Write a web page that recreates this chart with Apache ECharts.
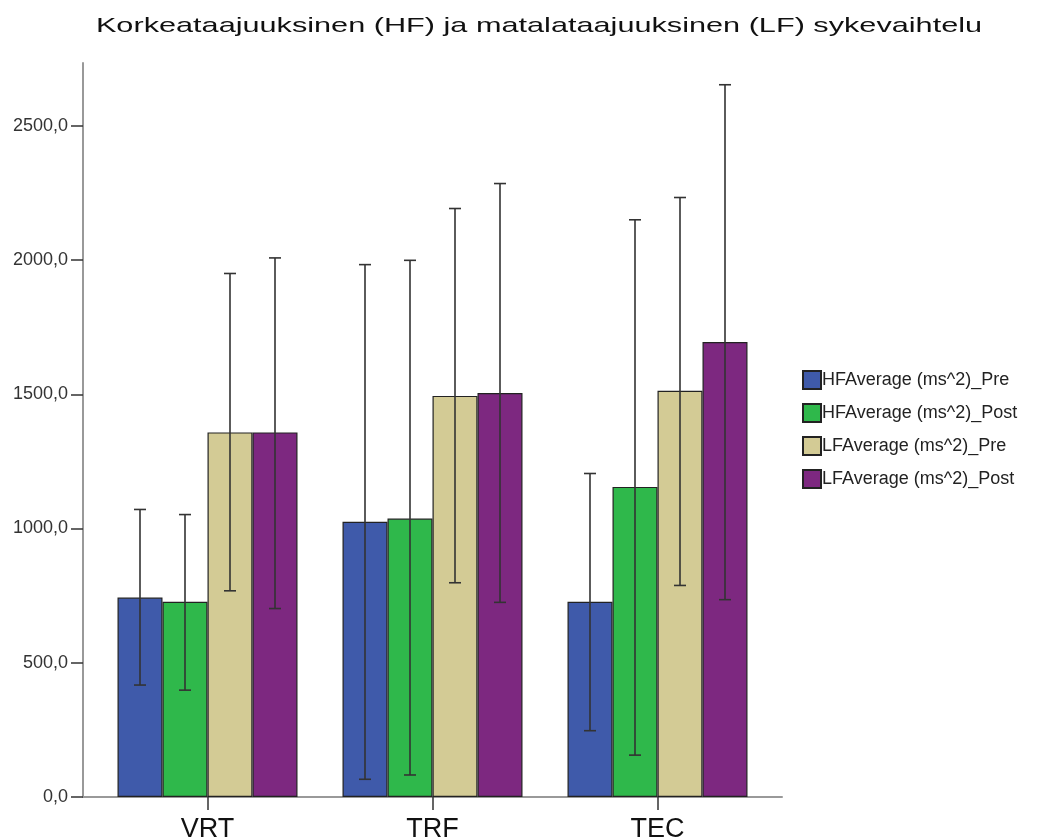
<!DOCTYPE html>
<html>
<head>
<meta charset="utf-8">
<title>Sykevaihtelu</title>
<script src="https://cdn.jsdelivr.net/npm/echarts@6/dist/echarts.min.js"></script>
<style>
  html, body { margin: 0; padding: 0; background: #ffffff; }
  #chart { width: 1037px; height: 840px; }
</style>
</head>
<body>
<div id="chart"></div>
<script>
// Groups and series
const categories = ['VRT', 'TRF', 'TEC'];
const seriesNames = ['HFAverage (ms^2)_Pre', 'HFAverage (ms^2)_Post', 'LFAverage (ms^2)_Pre', 'LFAverage (ms^2)_Post'];
const chartTitle = 'Korkeataajuuksinen (HF) ja matalataajuuksinen (LF) sykevaihtelu';

// Means
const hfPre  = [743, 1025, 727];
const hfPost = [727, 1037, 1155];
const lfPre  = [1358, 1494, 1513];
const lfPost = [1358, 1505, 1695];

// Error bar ends (lower / upper)
const hfPreLow   = [417, 66, 247];
const hfPreHigh  = [1071, 1983, 1205];
const hfPostLow  = [398, 82, 156];
const hfPostHigh = [1052, 1999, 2150];
const lfPreLow   = [768, 798, 788];
const lfPreHigh  = [1950, 2192, 2233];
const lfPostLow  = [702, 725, 735];
const lfPostHigh = [2008, 2285, 2653];

// Y axis ticks
const yTicks = [0, 500, 1000, 1500, 2000, 2500];
const yMax = 2734;

const means = [hfPre, hfPost, lfPre, lfPost];
const lows  = [hfPreLow, hfPostLow, lfPreLow, lfPostLow];
const highs = [hfPreHigh, hfPostHigh, lfPreHigh, lfPostHigh];
const colors = ['#3f5aaa', '#2fb84b', '#d3cb95', '#7d2880'];

const BAR_W = 45;
const CAP_W = 12;
const FONT = '"Liberation Sans", Arial, sans-serif';

const errData = [];
lows.forEach(function (lo, s) {
  lo.forEach(function (v, c) { errData.push([c, v, highs[s][c], s]); });
});

const barSeries = means.map(function (vals, s) {
  return {
    name: seriesNames[s],
    type: 'bar',
    xAxisIndex: 0,
    yAxisIndex: 0,
    barWidth: BAR_W,
    barGap: '0%',
    data: vals,
    itemStyle: { color: colors[s], borderColor: '#222', borderWidth: 1.2 },
    emphasis: { disabled: true }
  };
});

const errStyle = { stroke: '#333', lineWidth: 1.6 };

// Error bars: vertical whisker with caps, centred on each bar of the group
const errorSeries = {
  type: 'custom',
  xAxisIndex: 0,
  yAxisIndex: 0,
  z: 5,
  silent: true,
  encode: { x: 0, y: [1, 2] },
  data: errData,
  renderItem: function (params, api) {
    const c = api.value(0), lo = api.value(1), hi = api.value(2), s = api.value(3);
    const pLo = api.coord([c, lo]);
    const pHi = api.coord([c, hi]);
    const x = pLo[0] + (s - 1.5) * BAR_W;
    const h = CAP_W / 2;
    return {
      type: 'group',
      children: [
        { type: 'line', shape: { x1: x, y1: pLo[1], x2: x, y2: pHi[1] }, style: errStyle },
        { type: 'line', shape: { x1: x - h, y1: pHi[1], x2: x + h, y2: pHi[1] }, style: errStyle },
        { type: 'line', shape: { x1: x - h, y1: pLo[1], x2: x + h, y2: pLo[1] }, style: errStyle }
      ]
    };
  }
};

const chart = echarts.init(document.getElementById('chart'), null, { renderer: 'canvas' });

chart.setOption({
  backgroundColor: '#ffffff',
  animation: false,
  // Wide heading, drawn as text stretched horizontally
  graphic: [{
    type: 'text',
    x: 539,
    y: 26,
    scaleX: 1.46,
    silent: true,
    style: {
      text: chartTitle,
      fontFamily: FONT,
      fontSize: 21,
      fill: '#111',
      align: 'center',
      verticalAlign: 'middle',
      textAlign: 'center',
      textVerticalAlign: 'middle'
    }
  }],
  legend: {
    data: seriesNames,
    orient: 'vertical',
    left: 797,
    top: 365,
    itemWidth: 18,
    itemHeight: 18,
    itemGap: 13,
    icon: 'rect',
    selectedMode: false,
    textStyle: { fontFamily: FONT, fontSize: 18, color: '#222', padding: [0, 0, 0, -4] }
  },
  grid: [
    { left: 95, right: 267, top: 63, bottom: 43, outerBoundsMode: 'none' },
    { left: 83, right: 255, top: 63, bottom: 43, outerBoundsMode: 'none' }
  ],
  xAxis: [
    {
      type: 'category',
      gridIndex: 0,
      data: categories,
      axisLine: { show: false },
      axisTick: { show: true, alignWithLabel: true, length: 13, lineStyle: { color: '#333', width: 1.5 } },
      axisLabel: { margin: 19, fontFamily: FONT, fontSize: 27, color: '#111' },
      splitLine: { show: false }
    },
    {
      type: 'value',
      gridIndex: 1,
      min: 0,
      max: 1,
      axisLine: { show: true, onZero: false, lineStyle: { color: '#999', width: 2 } },
      axisTick: { show: false },
      axisLabel: { show: false },
      splitLine: { show: false }
    }
  ],
  yAxis: [
    {
      type: 'value',
      gridIndex: 0,
      min: 0,
      max: yMax,
      show: false,
      splitLine: { show: false }
    },
    {
      type: 'value',
      gridIndex: 1,
      min: 0,
      max: yMax,
      axisLine: { show: true, lineStyle: { color: '#999', width: 2 } },
      axisTick: { show: true, length: 12, customValues: yTicks, lineStyle: { color: '#333', width: 1.5 } },
      axisLabel: {
        customValues: yTicks,
        margin: 15,
        fontFamily: FONT,
        fontSize: 18,
        color: '#333',
        formatter: function (v) { return v.toFixed(1).replace('.', ','); }
      },
      splitLine: { show: false }
    }
  ],
  series: barSeries.concat([errorSeries])
});
</script>
</body>
</html>
